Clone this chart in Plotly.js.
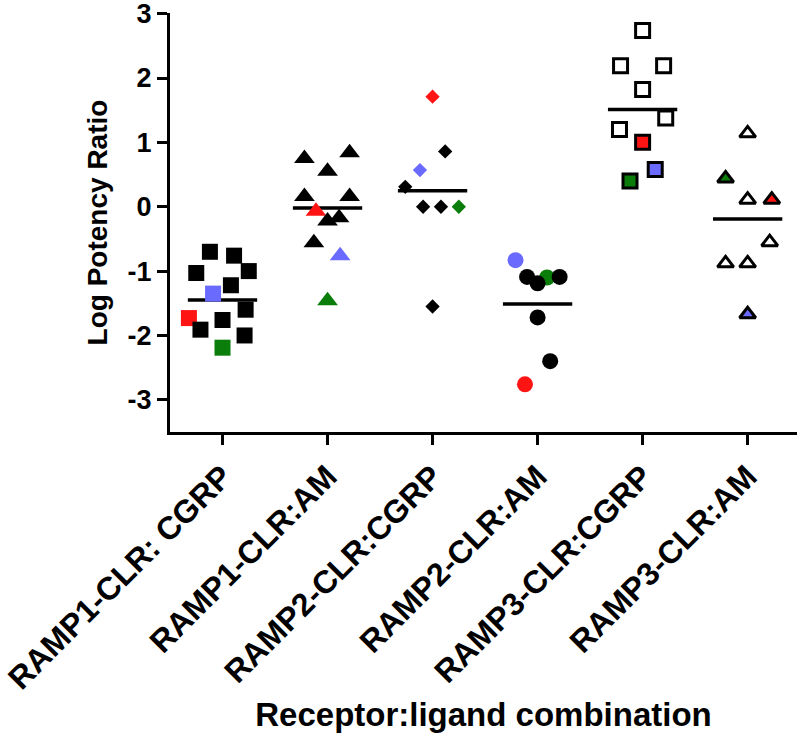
<!DOCTYPE html>
<html>
<head>
<meta charset="utf-8">
<script src="https://cdn.plot.ly/plotly-3.0.1.min.js"></script>
<style>html,body{margin:0;padding:0;background:#fff;}#chart{width:800px;height:739px;}</style>
</head>
<body>
<div id="chart"></div>
<script>
// ---- data ----
const categories = ['RAMP1-CLR: CGRP', 'RAMP1-CLR:AM', 'RAMP2-CLR:CGRP', 'RAMP2-CLR:AM', 'RAMP3-CLR:CGRP', 'RAMP3-CLR:AM'];
const yTickVals = [-3, -2, -1, 0, 1, 2, 3];
const yTickText = ['-3', '-2', '-1', '0', '1', '2', '3'];

// group values (log potency ratio), horizontal scatter within the column, colour tag per point
const g1Vals   = [-0.70, -0.76, -1.03, -1.00, -1.22, -1.35, -1.60, -1.73, -1.76, -1.91, -2.00, -2.19];
const g1Jitter = [-0.12, 0.11, -0.25, 0.25, 0.08, -0.09, 0.22, -0.32, 0.00, -0.21, 0.21, 0.00];
const g1Tags   = ['k', 'k', 'k', 'k', 'k', 'b', 'k', 'r', 'k', 'k', 'k', 'g'];

const g2Vals   = [0.75, 0.84, 0.55, 0.16, 0.16, -0.07, -0.17, -0.22, -0.56, -0.76, -1.46];
const g2Jitter = [-0.22, 0.21, 0.00, -0.22, 0.21, -0.11, 0.11, 0.00, -0.13, 0.12, 0.00];
const g2Tags   = ['k', 'k', 'k', 'k', 'k', 'r', 'k', 'k', 'k', 'b', 'g'];

const g3Vals   = [1.71, 0.86, 0.57, 0.31, 0.00, 0.00, 0.00, -1.55];
const g3Jitter = [0.00, 0.12, -0.12, -0.26, -0.09, 0.08, 0.25, 0.00];
const g3Tags   = ['r', 'k', 'b', 'k', 'k', 'k', 'g', 'k'];

const g4Vals   = [-0.83, -1.09, -1.10, -1.09, -1.19, -1.72, -2.40, -2.76];
const g4Jitter = [-0.21, -0.10, 0.09, 0.21, 0.00, 0.00, 0.12, -0.12];
const g4Tags   = ['b', 'k', 'g', 'k', 'k', 'k', 'k', 'r'];

const g5Vals   = [2.74, 2.19, 2.19, 1.82, 1.38, 1.20, 1.00, 0.58, 0.40];
const g5Jitter = [0.00, -0.21, 0.20, 0.00, 0.22, -0.22, 0.00, 0.12, -0.12];
const g5Tags   = ['k', 'k', 'k', 'k', 'k', 'k', 'r', 'b', 'g'];

const g6Vals   = [1.14, 0.44, 0.11, 0.11, -0.55, -0.88, -0.88, -1.67];
const g6Jitter = [0.00, -0.21, 0.00, 0.23, 0.21, -0.21, 0.00, 0.00];
const g6Tags   = ['k', 'g', 'k', 'r', 'k', 'k', 'k', 'b'];

// group mean lines as drawn in the picture
const groupMeans = [-1.45, -0.02, 0.25, -1.51, 1.51, -0.19];

// ---- styles ----
const tagColor = {r: '#ff1414', b: '#6a6aff', g: '#0a7d0a'};
const groupStyle = [
  {symbol: 'square', size: 16, open: false, lw: 0},
  {symbol: 'triangle-up', size: 18, open: false, lw: 0},
  {symbol: 'diamond', size: 11, open: false, lw: 0},
  {symbol: 'circle', size: 16, open: false, lw: 0},
  {symbol: 'square', size: 14, open: true, lw: 3},
  {symbol: 'triangle-up', size: 14, open: true, lw: 3}
];
const groups = [
  [g1Vals, g1Jitter, g1Tags], [g2Vals, g2Jitter, g2Tags], [g3Vals, g3Jitter, g3Tags],
  [g4Vals, g4Jitter, g4Tags], [g5Vals, g5Jitter, g5Tags], [g6Vals, g6Jitter, g6Tags]
];

const traces = [];
// mean lines (drawn first, under the markers)
groupMeans.forEach((m, i) => {
  traces.push({
    type: 'scatter', mode: 'lines', x: [i - 0.33, i + 0.33], y: [m, m],
    line: {color: '#000', width: 3.5}, hoverinfo: 'skip', showlegend: false
  });
});
// markers: coloured first, black on top
groups.forEach((g, i) => {
  const [vals, jit, tags] = g;
  const st = groupStyle[i];
  ['r', 'b', 'g', 'k'].forEach(tag => {
    const xs = [], ys = [];
    vals.forEach((v, j) => { if (tags[j] === tag) { xs.push(i + jit[j]); ys.push(v); } });
    if (!xs.length) return;
    let fill = tag === 'k' ? (st.open ? '#ffffff' : '#000000') : tagColor[tag];
    traces.push({
      type: 'scatter', mode: 'markers', x: xs, y: ys, showlegend: false,
      marker: {symbol: st.symbol, size: st.size, color: fill,
               line: {color: '#000', width: st.lw}}
    });
  });
});

const font = {family: 'Liberation Sans, Arial, sans-serif', color: '#000'};
const layout = {
  width: 800, height: 739,
  margin: {l: 170, r: 3, t: 13, b: 307},
  paper_bgcolor: '#fff', plot_bgcolor: '#fff',
  showlegend: false,
  xaxis: {
    range: [-0.5, 5.47], tickmode: 'array', tickvals: [0, 1, 2, 3, 4, 5], ticktext: categories,
    tickangle: -45, ticks: 'outside', ticklen: 10, tickwidth: 3, tickcolor: '#000',
    showline: true, linewidth: 3, linecolor: '#000', showgrid: false, zeroline: false,
    tickfont: Object.assign({size: 32, weight: 'bold'}, font),
    title: {text: 'Receptor:ligand combination', standoff: 8,
            font: Object.assign({size: 33, weight: 'bold'}, font)},
    automargin: false, fixedrange: true
  },
  yaxis: {
    range: [-3.5, 3.01], tickmode: 'array', tickvals: yTickVals, ticktext: yTickText,
    ticks: 'outside', ticklen: 10, tickwidth: 3, tickcolor: '#000',
    showline: true, linewidth: 3, linecolor: '#000', showgrid: false, zeroline: false,
    ticklabeloverflow: 'allow',
    tickfont: Object.assign({size: 27, weight: 'bold'}, font),
    title: {text: 'Log Potency Ratio', standoff: 12,
            font: Object.assign({size: 28, weight: 'bold'}, font)},
    automargin: false, fixedrange: true
  }
};

Plotly.newPlot('chart', traces, layout, {displayModeBar: false, staticPlot: true});
</script>
</body>
</html>
